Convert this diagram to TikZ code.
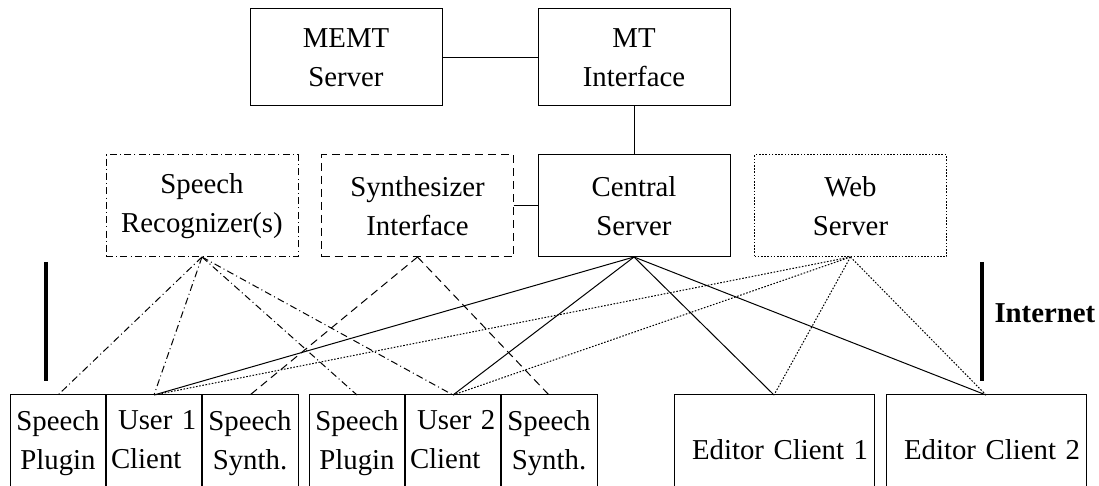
\documentclass[tikz,border=0pt]{standalone}
\usepackage{fontspec}
\setmainfont{Liberation Serif}
\usetikzlibrary{positioning}

\begin{document}
\begin{tikzpicture}[x=0.5pt,y=-0.5pt,line width=0.5pt,
    txt/.style={font=\fontsize{14.4}{19.5}\selectfont},
    box/.style={txt,draw,minimum width=96pt,minimum height=51pt,align=center,outer sep=0pt},
    cell/.style={txt,draw,minimum width=48pt,minimum height=48pt,inner xsep=1pt,align=center,outer sep=0pt},
    usercell/.style={cell,align=left,inner xsep=2.5pt,text width=43pt},
    editor/.style={txt,draw,anchor=north,minimum width=100pt,minimum height=55pt,inner xsep=3pt,text width=94pt,align=right,outer sep=0pt},
    recoline/.style={dash pattern=on 3.5pt off 1.6pt on 0.5pt off 1.6pt},
    synthline/.style={dash pattern=on 4pt off 2.5pt},
    webline/.style={dash pattern=on 0.8pt off 0.8pt},
    divider/.style={line width=1pt},
    bar/.style={line width=2.2pt}]
\useasboundingbox (0,0) rectangle (1099,486);
% MT side
\node[box,minimum height=48.5pt] (memt) at (346,57.5) {MEMT\\Server};
\node[box,minimum height=48.5pt] (mti) at (634,57.5) {MT\\Interface};
% Servers
\node[box,recoline] (reco) at (202,206) {Speech\\Recognizer(s)};
\node[box,synthline] (synth) at (417.5,206) {Synthesizer\\Interface};
\node[box] (central) at (634,206) {Central\\Server};
\node[box,webline] (web) at (850.5,206) {Web\\Server};
% User 1
\node[cell,anchor=north] (plug1) at (58,395) {Speech\\Plugin};
\node[usercell,right=0pt of plug1] (user1) {\hspace*{3.5pt}User~1\\Client\vphantom{g}};
\node[cell,right=0pt of user1] (synth1) {Speech\\Synth.\vphantom{g}};
% User 2
\node[cell,anchor=north] (plug2) at (357,395) {Speech\\Plugin};
\node[usercell,right=0pt of plug2] (user2) {\hspace*{3.5pt}User~2\\Client\vphantom{g}};
\node[cell,right=0pt of user2] (synth2) {Speech\\Synth.\vphantom{g}};
% Editors
\node[editor] (ed1) at (774,395) {Editor Client 1};
\node[editor] (ed2) at (986,395) {Editor Client 2};
% Thick dividers
\foreach \n in {plug1,user1,plug2,user2}
    \draw[divider] (\n.north east) -- (\n.south east);
% Connections
\draw (memt.east) -- (mti.west);
\draw (mti.south) -- (central.north);
\draw (synth.east) -- (central.west);
\foreach \n in {plug1,user1,plug2,user2}
    \draw[recoline] (reco.south) -- (\n.north);
\foreach \n in {synth1,synth2}
    \draw[synthline] (synth.south) -- (\n.north);
\foreach \n in {user1,user2,ed1,ed2} {
    \draw (central.south) -- (\n.north);
    \draw[webline] (web.south) -- (\n.north);
}
% Internet bars
\draw[bar] (46,262) -- (46,381);
\draw[bar] (982,262) -- (982,381);
\node[txt,font=\fontsize{14.4}{19.5}\selectfont\bfseries,anchor=west,inner sep=0pt] (inet) at (994,313) {Internet};
\end{tikzpicture}
\end{document}
